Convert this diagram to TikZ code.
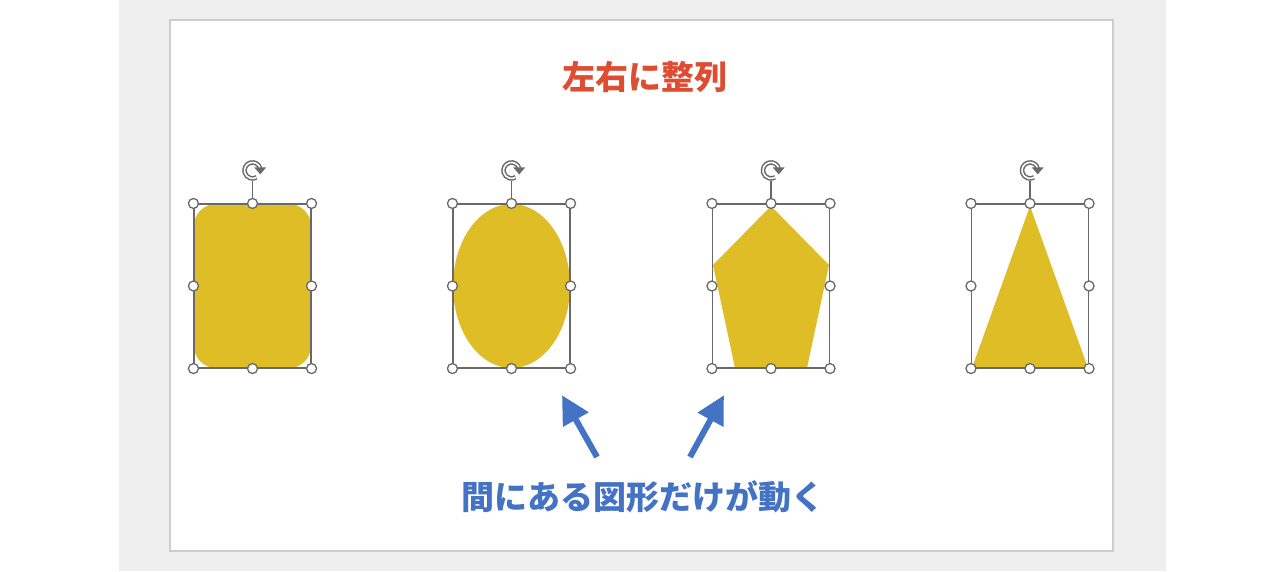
\documentclass[tikz,border=0pt]{standalone}
\usepackage{fontspec}
\usepackage{xcolor}
\usepackage{tikz}
\usetikzlibrary{arrows.meta,shapes,positioning,calc}
\newfontfamily\jpfont{Noto Sans CJK JP}
\definecolor{slidegray}{RGB}{239,239,239}
\definecolor{slideedge}{RGB}{205,205,205}
\definecolor{shapegold}{RGB}{223,189,38}
\definecolor{handlegray}{RGB}{105,105,105}
\definecolor{titlered}{RGB}{222,76,50}
\definecolor{noteblue}{RGB}{68,114,196}
\tikzset{
  selframe/.style={draw=handlegray, line width=1.1pt, minimum width=117pt, minimum height=164pt, inner sep=0pt},
  handle/.style={circle, draw=handlegray, fill=white, line width=1.3pt, minimum size=10pt, inner sep=0pt},
  movearrow/.style={-{Triangle[length=28pt, width=28pt]}, line width=6pt, noteblue, shorten >=-2pt}
}
\begin{document}
\begin{tikzpicture}[x=1pt, y=-1pt, every node/.style={font=\jpfont}]
    \useasboundingbox (0,0) rectangle (1280,571);
    % Background and slide
    \fill[white] (0,0) rectangle (1280,571);
    \fill[slidegray] (119,0) rectangle (1166,571);
    \filldraw[fill=white, draw=slideedge, line width=1.2pt] (170,20) rectangle (1113,551);

    % Title
    \node[font=\jpfont\bfseries\fontsize{33}{33}\selectfont, text=titlered] (title) at (645,77) {左右に整列};

    % Shapes
    \fill[shapegold, rounded corners=22pt] (194,204) rectangle (311,368);
    \fill[shapegold] (511.5,286) ellipse [x radius=58.5pt, y radius=82pt];
    \fill[shapegold] (771,206) -- (829,265) -- (807,368) -- (735,368) -- (713,265) -- cycle;
    \fill[shapegold] (1030,206) -- (1088,368) -- (972,368) -- cycle;

    % Selection frames with handles
    \foreach \n/\cx in {1/252.5, 2/511.5, 3/771, 4/1030} {
        \node[selframe] (b\n) at (\cx,286) {};
        \draw[handlegray, line width=1.1pt] (b\n.north) -- ++(0,-22);
        \foreach \a in {north west, north, north east, west, east, south west, south, south east}
            \node[handle] at (b\n.\a) {};
        % rotation handle
        \draw[handlegray, line width=4.6pt] ($(b\n.north)+(0,-33)$) ++(15:8pt) arc[start angle=15, end angle=300, radius=8pt];
        \draw[white, line width=1.6pt] ($(b\n.north)+(0,-33)$) ++(15:8pt) arc[start angle=15, end angle=300, radius=8pt];
        \fill[handlegray] ($(b\n.north)+(0,-33)+(15:8pt)+(-6,-1)$) -- ++(12,0) -- ++(-6,7) -- cycle;
    }

    % Note and arrows
    \node[font=\jpfont\bfseries\fontsize{33}{33}\selectfont, text=noteblue] (note) at (643,497) {間にある図形だけが動く};
    \coordinate (tailL) at (597,457);
    \coordinate (tailR) at (690,457);
    \coordinate (tipL) at (563,397);
    \coordinate (tipR) at (723,397);
    \draw[movearrow] (tailL) -- (tipL);
    \draw[movearrow] (tailR) -- (tipR);
\end{tikzpicture}
\end{document}
